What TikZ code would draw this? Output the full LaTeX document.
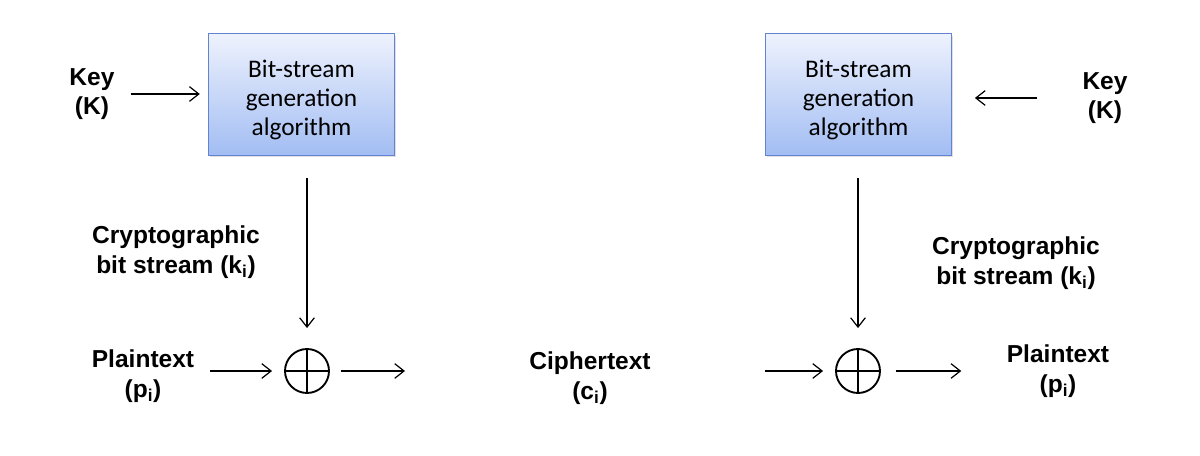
\documentclass[tikz,border=0pt]{standalone}
\usepackage{fontspec}
\setmainfont{Liberation Sans}
\newfontfamily\boxfont{Carlito}
\usetikzlibrary{arrows.meta, shadows}

\begin{document}
\begin{tikzpicture}[x=0.75pt, y=-0.75pt]
\tikzstyle{line} = [draw, line width=0.9pt, -{Straight Barb[length=7pt, width=11pt, line width=0.9pt]}]
\tikzstyle{label} = [font=\fontsize{18.4}{22}\selectfont\bfseries, align=center, inner sep=0pt]
\tikzstyle{gen} = [rectangle, draw={rgb,255:red,100;green,130;blue,210}, line width=0.6pt,
  top color={rgb,255:red,238;green,242;blue,253}, bottom color={rgb,255:red,162;green,189;blue,243},
  minimum width=140pt, minimum height=91pt,
  drop shadow={opacity=0.25, shadow xshift=1pt, shadow yshift=-1.5pt}]
\tikzstyle{gentext} = [align=center, inner sep=0pt, font=\boxfont\fontsize{19}{22}\selectfont]
\tikzstyle{xor} = [circle, draw, line width=1.4pt, minimum size=33pt, inner sep=0pt]
\useasboundingbox (0,0) rectangle (1200,456);
% sender side
\node[gen] (box_1) at (301.5,94.5) {};
\node[gentext] (txt_1) at ([yshift=-4pt]box_1.center) {Bit-stream\\generation\\algorithm};
\node[label] (key_1) at (92,94) {Key\\(K)};
\node[label] (ks_1) at (176,252) {Cryptographic\\bit stream (k\textsubscript{i})};
\node[xor] (xor_1) at (307,371) {};
\draw[line width=1.4pt] (xor_1.north) -- (xor_1.south) (xor_1.west) -- (xor_1.east);
\node[label] (pt_1) at (143,376) {Plaintext\\(p\textsubscript{i})};
% ciphertext
\node[label] (ct) at (590,378) {Ciphertext\\(c\textsubscript{i})};
\coordinate (ct_in) at (405,371);
\coordinate (ct_out) at (765,371);
% receiver side
\node[gen] (box_2) at (858.5,94.5) {};
\node[gentext] (txt_2) at ([yshift=-4pt]box_2.center) {Bit-stream\\generation\\algorithm};
\node[label] (key_2) at (1105,98) {Key\\(K)};
\node[label] (ks_2) at (1016,263) {Cryptographic\\bit stream (k\textsubscript{i})};
\node[xor] (xor_2) at (858,371) {};
\draw[line width=1.4pt] (xor_2.north) -- (xor_2.south) (xor_2.west) -- (xor_2.east);
\node[label] (pt_2) at (1058,371) {Plaintext\\(p\textsubscript{i})};
% arrows
\path [line, shorten <=12pt, shorten >=6pt] (key_1.east) -- (key_1.east -| box_1.west);
\path [line, shorten <=17pt, shorten >=15pt] (box_1.south -| xor_1) -- (xor_1.north);
\path [line, shorten <=12pt, shorten >=9pt] (pt_1.east |- xor_1) -- (xor_1.west);
\path [line, shorten <=8pt] (xor_1.east) -- (ct_in);
\path [line, shorten >=9pt] (ct_out) -- (xor_2.west);
\path [line, shorten <=34pt, shorten >=17pt] (key_2.west) -- (key_2.west -| box_2.east);
\path [line, shorten <=17pt, shorten >=15pt] (box_2.south -| xor_2) -- (xor_2.north);
\path [line, shorten <=11pt, shorten >=34pt] (xor_2.east) -- (xor_2.east -| pt_2.west);
\end{tikzpicture}
\end{document}
